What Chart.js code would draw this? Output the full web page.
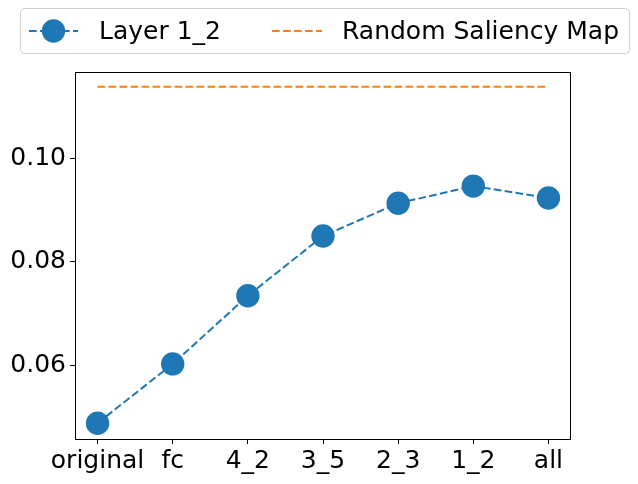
<!DOCTYPE html>
<html lang="en">
<head>
    <meta charset="UTF-8">
    <title>Layer 1_2 vs Random Saliency Map</title>
    <script src="https://cdn.jsdelivr.net/npm/chart.js"></script>
    <style>
        body { margin: 0; background: #fff; }
        canvas { display: block; }
    </style>
</head>
<body>
    <canvas id="layerChart" width="638" height="484"></canvas>

    <script>
        // Data
        const categories = ["original", "fc", "4_2", "3_5", "2_3", "1_2", "all"];
        const layerValues = [0.0490, 0.0604, 0.0735, 0.0850, 0.0913, 0.0946, 0.0923];
        const randomValue = 0.1137;
        const yTicks = [0.06, 0.08, 0.10];

        const blue = '#1f77b4';
        const orange = '#ff7f0e';
        const font = { family: 'DejaVu Sans', size: 25 };

        // frame around the plot + legend box in matplotlib style
        const framePlugin = {
            id: 'frame',
            afterDraw(chart) {
                const { ctx, chartArea: a } = chart;
                ctx.save();
                ctx.strokeStyle = '#000';
                ctx.lineWidth = 1;
                ctx.strokeRect(a.left + 0.5, a.top + 0.5, a.right - a.left - 1, a.bottom - a.top);

                // legend box
                ctx.strokeStyle = '#d0d0d0';
                ctx.fillStyle = 'rgba(255,255,255,0.8)';
                ctx.beginPath();
                ctx.roundRect(20.5, 8.5, 609, 45, 4);
                ctx.fill();
                ctx.stroke();

                const cy = 31;
                ctx.lineWidth = 2;
                ctx.setLineDash([7.7, 3.3]);
                ctx.strokeStyle = blue;
                ctx.beginPath();
                ctx.moveTo(29, cy);
                ctx.lineTo(78, cy);
                ctx.stroke();
                ctx.setLineDash([]);
                ctx.fillStyle = blue;
                ctx.beginPath();
                ctx.arc(53.5, cy, 11.7, 0, Math.PI * 2);
                ctx.fill();

                ctx.setLineDash([7.7, 3.3]);
                ctx.strokeStyle = orange;
                ctx.beginPath();
                ctx.moveTo(272, cy);
                ctx.lineTo(322, cy);
                ctx.stroke();
                ctx.setLineDash([]);

                ctx.fillStyle = '#000';
                ctx.font = '25px "DejaVu Sans"';
                ctx.textBaseline = 'middle';
                ctx.fillText(chart.data.datasets[0].label, 99, cy + 1);
                ctx.fillText(chart.data.datasets[1].label, 342, cy + 1);
                ctx.restore();
            }
        };

        const ctx = document.getElementById('layerChart').getContext('2d');

        new Chart(ctx, {
            type: 'line',
            data: {
                datasets: [
                    {
                        label: 'Layer 1_2',
                        data: layerValues.map((v, i) => ({ x: i, y: v })),
                        borderColor: blue,
                        backgroundColor: blue,
                        borderWidth: 2,
                        borderDash: [7.7, 3.3],
                        pointRadius: 11.7,
                        pointHoverRadius: 11.7,
                        pointBorderWidth: 0,
                        tension: 0
                    },
                    {
                        label: 'Random Saliency Map',
                        data: [{ x: 0, y: randomValue }, { x: categories.length - 1, y: randomValue }],
                        borderColor: orange,
                        borderWidth: 2,
                        borderDash: [7.7, 3.3],
                        pointRadius: 0,
                        tension: 0
                    }
                ]
            },
            options: {
                responsive: false,
                animation: false,
                devicePixelRatio: 1,
                layout: { padding: { top: 72, right: 67, left: 0, bottom: 0 } },
                plugins: {
                    legend: { display: false },
                    tooltip: { enabled: false }
                },
                scales: {
                    x: {
                        type: 'linear',
                        min: -0.3,
                        max: 6.3,
                        afterBuildTicks: s => { s.ticks = categories.map((c, i) => ({ value: i })); },
                        afterFit: s => { s.height = 45; },
                        ticks: {
                            color: '#000',
                            font: font,
                            padding: 2,
                            maxRotation: 0,
                            autoSkip: false,
                            callback: v => categories[v]
                        },
                        grid: { drawOnChartArea: false, drawTicks: true, tickLength: 5, color: '#000' },
                        border: { display: false }
                    },
                    y: {
                        min: 0.04596,
                        max: 0.11654,
                        afterBuildTicks: s => { s.ticks = yTicks.map(v => ({ value: v })); },
                        afterFit: s => { s.width = 75; },
                        ticks: {
                            color: '#000',
                            font: font,
                            padding: 4,
                            callback: v => v.toFixed(2)
                        },
                        grid: { drawOnChartArea: false, drawTicks: true, tickLength: 5, color: '#000' },
                        border: { display: false }
                    }
                }
            },
            plugins: [framePlugin]
        });
    </script>
</body>
</html>
